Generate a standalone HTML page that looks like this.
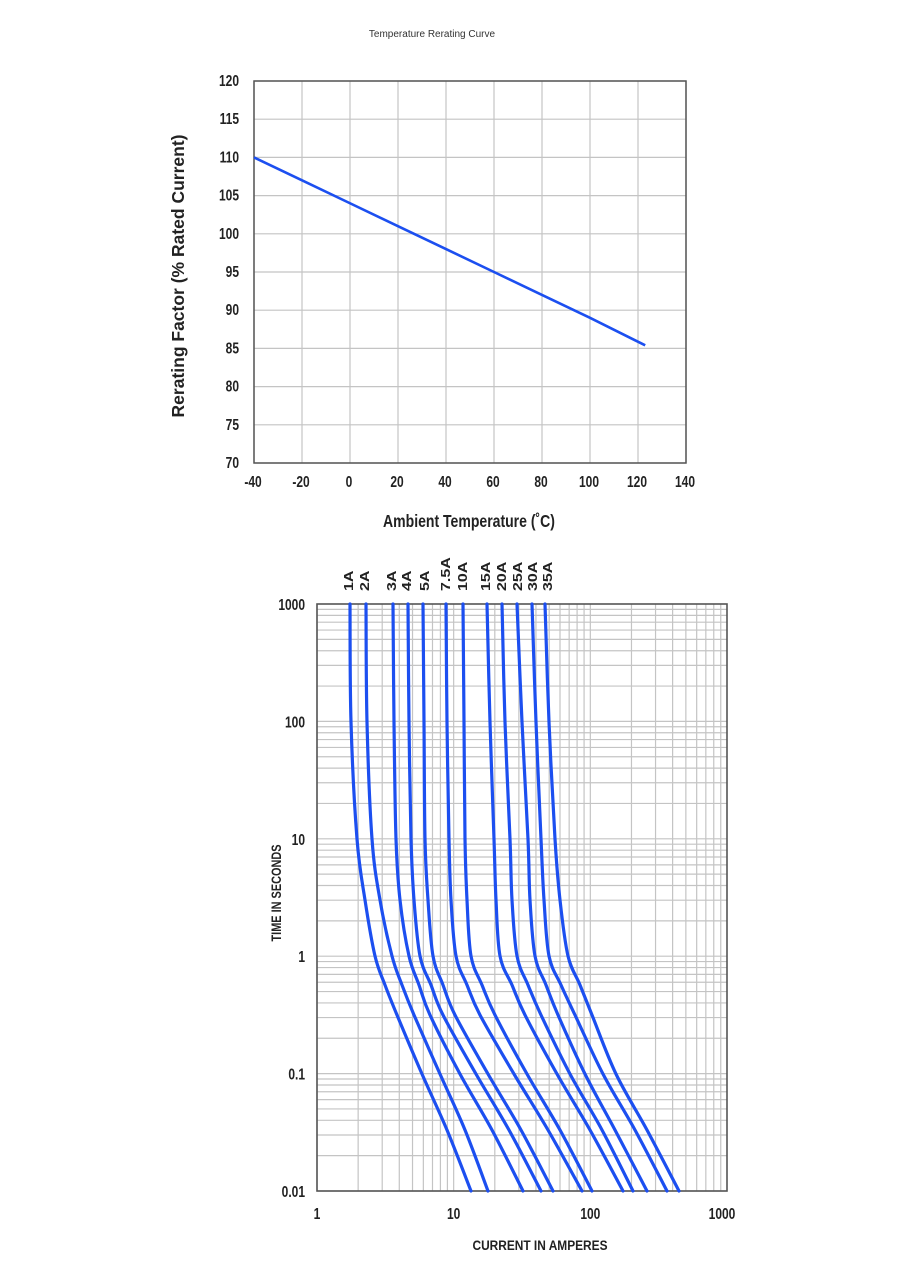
<!DOCTYPE html>
<html><head><meta charset="utf-8">
<style>
html,body{margin:0;padding:0;background:#fff;}
svg{display:block;}
text{font-family:"Liberation Sans",sans-serif;font-weight:bold;fill:#222;}
</style></head>
<body>
<svg id="s" width="909" height="1286" viewBox="0 0 909 1286" xmlns="http://www.w3.org/2000/svg">
<text x="432" y="37" text-anchor="middle" style="font-weight:normal;font-size:10px;fill:#333">Temperature Rerating Curve</text>
<g id="top"></g>
<text transform="translate(184,276) rotate(-90)" text-anchor="middle" font-size="17.5">Rerating Factor (% Rated Current)</text>
<text transform="translate(469,527) scale(0.78,1)" text-anchor="middle" font-size="18">Ambient Temperature (˚C)</text>
<g id="bot"></g>
<text transform="translate(281,893) rotate(-90) scale(0.78,1)" text-anchor="middle" font-size="14">TIME IN SECONDS</text>
<text transform="translate(540,1250) scale(0.85,1)" text-anchor="middle" font-size="14">CURRENT IN AMPERES</text>
</svg>
<script>
var NS="http://www.w3.org/2000/svg";
function el(p,n,a,t){var e=document.createElementNS(NS,n);for(var k in a)e.setAttribute(k,a[k]);if(t!=null)e.textContent=t;p.appendChild(e);return e;}
function txt(p,x,y,s,anchor,size){return el(p,'text',{transform:'translate('+x+','+y+') scale(0.75,1)','text-anchor':anchor,'font-size':size},s);}
var T=document.getElementById('top');
var L=254,R=686,TP=81,B=463;
for(var i=0;i<=9;i++){var x=L+i*48;el(T,'line',{x1:x,y1:TP,x2:x,y2:B,stroke:'#c4c4c4','stroke-width':1.2});
 txt(T,x-1,487,(-40+20*i)+'','middle',16);}
for(var j=0;j<=10;j++){var y=TP+j*38.2;el(T,'line',{x1:L,y1:y,x2:R,y2:y,stroke:'#c4c4c4','stroke-width':1.2});
 txt(T,239,y+5,(120-5*j)+'','end',16);}
el(T,'rect',{x:L,y:TP,width:R-L,height:B-TP,fill:'none',stroke:'#555','stroke-width':1.5});
function tx(t){return L+(t+40)*2.4;} function ty(v){return TP+(120-v)*7.64;}
var tp=[[-40,110],[-20,107],[0,104],[20,101],[40,98],[60,95],[80,92],[100,89],[123,85.4]];
el(T,'polyline',{points:tp.map(function(p){return tx(p[0])+','+ty(p[1])}).join(' '),fill:'none',stroke:'#1c4ff0','stroke-width':2.6});
var G=document.getElementById('bot');
var BL=317,BR=727,BT=604,BB=1191,DX=(BR-BL)/3,DY=(BB-BT)/5;
for(var d=0;d<3;d++)for(var m=1;m<=9;m++){var x=BL+DX*(d+Math.log10(m));el(G,'line',{x1:x,y1:BT,x2:x,y2:BB,stroke:'#c4c4c4','stroke-width':1.2});}
for(var d=0;d<5;d++)for(var m=1;m<=9;m++){var y=BB-DY*(d+Math.log10(m));el(G,'line',{x1:BL,y1:y,x2:BR,y2:y,stroke:'#c4c4c4','stroke-width':1.2});}
el(G,'rect',{x:BL,y:BT,width:BR-BL,height:BB-BT,fill:'none',stroke:'#555','stroke-width':1.6});
var yl=['1000','100','10','1','0.1','0.01'];
for(var k=0;k<6;k++)txt(G,305,BT+k*DY+6,yl[k],'end',16);
var xl=['1','10','100','1000'];
for(var k=0;k<4;k++)txt(G,BL+k*DX-(k==3?5:0),1219,xl[k],'middle',16);
var ys=[604,722,839,900,956,985,1015,1074,1130,1191];
var C=[
[350,351,357,365,375,385,397,422,447,471],
[366,367,372,380,392,402,414,440,465,488],
[393,394,396,400,409,419,430,460,492,523],
[408,409,411,414,420,431,443,476,509,541],
[423,424,425,428,433,443,455,488,521,553],
[446,447,449,451,456,467,480,514,548,582],
[463,464,465,467,471,482,495,527,560,592],
[487,490,494,496,500,512,525,557,590,623],
[502,505,510,512,517,528,541,570,602,633],
[517,522,528,530,535,546,558,585,615,647],
[532,536,541,544,549,561,575,603,635,667],
[545,549,555,560,568,580,592,616,647,679]];
function smooth(pts){var d='M'+pts[0][0]+','+pts[0][1];
 for(var i=0;i<pts.length-1;i++){var p0=pts[i-1]||pts[i],p1=pts[i],p2=pts[i+1],p3=pts[i+2]||p2;
  d+=' C'+(p1[0]+(p2[0]-p0[0])/6)+','+(p1[1]+(p2[1]-p0[1])/6)+' '+(p2[0]-(p3[0]-p1[0])/6)+','+(p2[1]-(p3[1]-p1[1])/6)+' '+p2[0]+','+p2[1];}
 return d;}
C.forEach(function(c){el(G,'path',{d:smooth(c.map(function(x,i){return [x,ys[i]]})),fill:'none',stroke:'#1c4ff0','stroke-width':3.2,'stroke-linecap':'round'});});
var lab=[['1A',347],['2A',363],['3A',390],['4A',405],['5A',423],['7.5A',444],['10A',461],['15A',484],['20A',500],['25A',516],['30A',531],['35A',546]];
lab.forEach(function(l){el(G,'text',{transform:'translate('+(l[1]+6)+',591) rotate(-90) scale(1,0.8)','font-size':16},l[0]);});
</script>
</body></html>
